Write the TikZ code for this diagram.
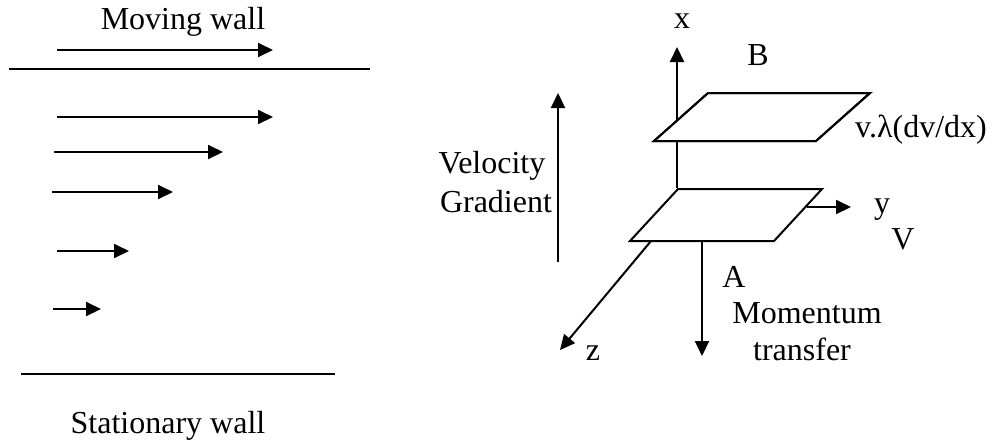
\documentclass[tikz,border=0pt]{standalone}
\usepackage{fontspec}
\setmainfont{Liberation Serif}
\usetikzlibrary{arrows.meta}
\begin{document}
\begin{tikzpicture}[x=0.5pt,y=-0.5pt,
  line/.style={line width=1pt},
  arr/.style={line width=1pt,-{Triangle[length=7.5pt,width=7pt]}},
  lbl/.style={font=\fontsize{16}{16}\selectfont,inner sep=0pt,anchor=base}]
\useasboundingbox (0,0) rectangle (995,446);
% left panel
\node[lbl] (mw) at (183,29) {Moving wall};
\node[lbl] (sw) at (168,433) {Stationary wall};
\coordinate (w1a) at (57,50);  \coordinate (w1b) at (273,50);
\draw[arr] (w1a) -- (w1b);
\coordinate (tw1) at (9,69); \coordinate (tw2) at (370,69);
\draw[line] (tw1) -- (tw2);
\coordinate (a1a) at (57,117); \coordinate (a1b) at (273,117);
\coordinate (a2a) at (54,152); \coordinate (a2b) at (223,152);
\coordinate (a3a) at (52,192); \coordinate (a3b) at (173,192);
\coordinate (a4a) at (57,251); \coordinate (a4b) at (129,251);
\coordinate (a5a) at (53,309); \coordinate (a5b) at (101,309);
\draw[arr] (a1a) -- (a1b);
\draw[arr] (a2a) -- (a2b);
\draw[arr] (a3a) -- (a3b);
\draw[arr] (a4a) -- (a4b);
\draw[arr] (a5a) -- (a5b);
\coordinate (bw1) at (21,374); \coordinate (bw2) at (335,374);
\draw[line] (bw1) -- (bw2);
% velocity gradient
\coordinate (vg1) at (558,262); \coordinate (vg2) at (558,93);
\draw[arr] (vg1) -- (vg2);
\node[lbl] (vel) at (492,173) {Velocity};
\node[lbl] (grad) at (496,212) {Gradient};
% axes
\coordinate (O) at (677,188);
\coordinate (xt) at (677,47);
\draw[arr] (O) -- (xt);
\node[lbl] (xl) at (682,28) {x};
% upper plate
\coordinate (u1) at (708,93); \coordinate (u2) at (870,93);
\coordinate (u3) at (816,141); \coordinate (u4) at (654,141);
\draw[line,fill=white] (u1) -- (u2) -- (u3) -- (u4) -- cycle;
\draw[line] (O) -- (677,141);
\draw[line] (u1) -- (u2) -- (u3) -- (u4) -- cycle;
\node[lbl] (B) at (758,65) {B};
\node[lbl] (tau) at (921,137) {v.λ(dv/dx)};
% lower plate
\coordinate (l1) at (678,189); \coordinate (l2) at (822,189);
\coordinate (l3) at (774,241); \coordinate (l4) at (630,241);
\draw[line] (l1) -- (l2) -- (l3) -- (l4) -- cycle;
\coordinate (ys) at (807,207); \coordinate (yt) at (851,207);
\draw[arr] (ys) -- (yt);
\node[lbl] (yl) at (882,213) {y};
\node[lbl] (Vl) at (903,249) {V};
\coordinate (zs) at (651,241); \coordinate (zt) at (560,350);
\draw[arr] (zs) -- (zt);
\node[lbl] (zl) at (593,360) {z};
\coordinate (ms) at (702,241); \coordinate (mt) at (702,356);
\draw[arr] (ms) -- (mt);
\node[lbl] (Al) at (734,287) {A};
\node[lbl] (mom) at (807,323) {Momentum};
\node[lbl] (tr) at (802,360) {transfer};
\end{tikzpicture}
\end{document}
